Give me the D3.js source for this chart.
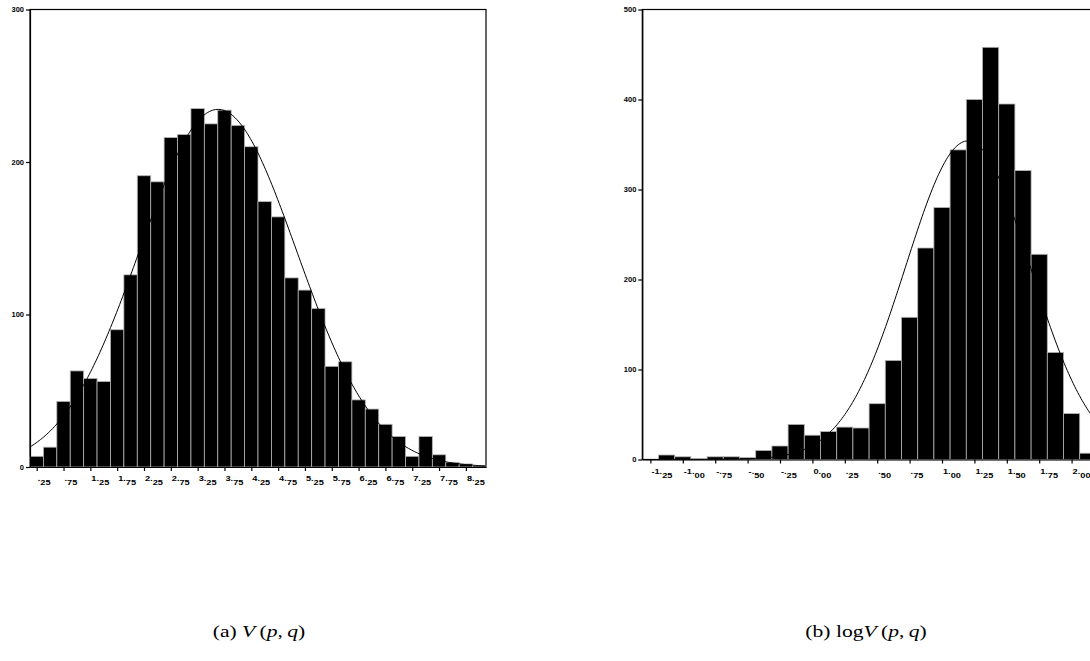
<!DOCTYPE html>
<html lang="en">
<head>
    <meta charset="UTF-8">
    <title>V(p,q) histograms</title>
    <script src="https://d3js.org/d3.v7.min.js"></script>
    <style>
        body {
            margin: 0;
            padding: 0;
            background: #fff;
        }
        .axis text {
            font-family: "Liberation Sans", Arial, sans-serif;
            font-weight: bold;
            font-size: 7.5px;
            fill: #000;
        }
        .axis path, .axis line {
            stroke: #000;
            stroke-width: 1.2px;
        }
        .xlab {
            font-family: "Liberation Sans", Arial, sans-serif;
            font-weight: bold;
            font-size: 8px;
            fill: #000;
        }
        .bar {
            fill: #000;
            stroke: #b4b4b4;
            stroke-width: 0.8px;
        }
        .curve {
            fill: none;
            stroke: #000;
            stroke-width: 1px;
        }
        .frame {
            fill: none;
            stroke: #000;
            stroke-width: 1.2px;
        }
        .caption {
            font-family: "Liberation Serif", "Times New Roman", serif;
            font-size: 16px;
            fill: #000;
        }
    </style>
</head>
<body>
<script>
    // left panel: V(p,q), bins of width .25
    const leftBins = [0.25, 0.5, 0.75, 1.0, 1.25, 1.5, 1.75, 2.0, 2.25, 2.5, 2.75, 3.0,
        3.25, 3.5, 3.75, 4.0, 4.25, 4.5, 4.75, 5.0, 5.25, 5.5, 5.75, 6.0,
        6.25, 6.5, 6.75, 7.0, 7.25, 7.5, 7.75, 8.0, 8.25, 8.5];
    const leftCounts = [7, 13, 43, 63, 58, 56, 90, 126, 191, 187, 216, 218,
        235, 225, 234, 224, 210, 174, 164, 124, 116, 104, 66, 69,
        44, 38, 28, 20, 7, 20, 8, 3, 2, 1];
    const leftTicks = [0.25, 0.75, 1.25, 1.75, 2.25, 2.75, 3.25, 3.75, 4.25, 4.75,
        5.25, 5.75, 6.25, 6.75, 7.25, 7.75, 8.25];
    const leftYTicks = [0, 100, 200, 300];
    const leftFit = { mean: 3.63, sd: 1.46, peak: 234.5 };

    // right panel: log V(p,q), bins of width .125
    const rightBins = [-1.25, -1.125, -1.0, -0.875, -0.75, -0.625, -0.5, -0.375,
        -0.25, -0.125, 0.0, 0.125, 0.25, 0.375, 0.5, 0.625, 0.75, 0.875,
        1.0, 1.125, 1.25, 1.375, 1.5, 1.625, 1.75, 1.875, 2.0, 2.125];
    const rightCounts = [0, 5, 3, 1, 3, 3, 2, 10, 15, 39, 27, 31, 36, 35,
        62, 110, 158, 235, 280, 344, 400, 458, 395, 321, 228, 119, 51, 7];
    const rightTicks = [-1.25, -1.0, -0.75, -0.5, -0.25, 0.0, 0.25, 0.5, 0.75,
        1.0, 1.25, 1.5, 1.75, 2.0];
    const rightYTicks = [0, 100, 200, 300, 400, 500];
    const rightFit = { mean: 1.2, sd: 0.48, peak: 354 };

    const svg = d3.select('body').append('svg')
        .attr('width', 1090)
        .attr('height', 661);

    // label like ".25" / "-1.25": the decimals sit a little lower
    function splitLabel(v) {
        const s = v.toFixed(2);
        let [ip, dp] = s.split('.');
        if (ip === '0' && v > 0) ip = '';
        if (ip === '-0') ip = '-';
        return [ip + '.', dp];
    }

    function panel(opt) {
        const x = d3.scaleLinear().domain(opt.xDomain).range(opt.xRange);
        const y = d3.scaleLinear().domain(opt.yDomain).range(opt.yRange);
        const w = opt.binWidth;
        const g = svg.append('g');

        g.append('rect')
            .attr('class', 'frame')
            .attr('x', opt.xRange[0])
            .attr('y', opt.yRange[1])
            .attr('width', opt.xRange[1] - opt.xRange[0])
            .attr('height', opt.yRange[0] - opt.yRange[1]);

        g.append('g')
            .selectAll('rect')
            .data(opt.bins)
            .enter().append('rect')
            .attr('class', 'bar')
            .attr('x', d => x(d - w / 2))
            .attr('width', d => x(d + w / 2) - x(d - w / 2))
            .attr('y', (d, i) => y(opt.counts[i]))
            .attr('height', (d, i) => y(0) - y(opt.counts[i]));

        const f = opt.fit;
        const pts = d3.range(opt.xDomain[0], opt.xDomain[1], (opt.xDomain[1] - opt.xDomain[0]) / 300)
            .concat([opt.xDomain[1]])
            .map(v => [v, f.peak * Math.exp(-((v - f.mean) ** 2) / (2 * f.sd * f.sd))]);
        g.append('path')
            .attr('class', 'curve')
            .attr('d', d3.line().x(d => x(d[0])).y(d => y(d[1]))(pts));

        g.append('g')
            .attr('class', 'axis')
            .attr('transform', `translate(${opt.xRange[0]},0)`)
            .call(d3.axisLeft(y).tickValues(opt.yTicks).tickSize(4).tickSizeOuter(0).tickPadding(2));

        g.append('g')
            .attr('class', 'axis')
            .attr('transform', `translate(0,${opt.yRange[0]})`)
            .call(d3.axisBottom(x).tickValues(opt.ticks).tickSize(4).tickSizeOuter(0).tickFormat(''));

        const lab = g.append('g')
            .selectAll('text')
            .data(opt.ticks)
            .enter().append('text')
            .attr('class', 'xlab')
            .attr('transform', d => `translate(${x(d) + 1},${opt.yRange[0] + opt.labelDy}) scale(1.15,1)`);
        lab.append('tspan').text(d => splitLabel(d)[0]);
        lab.append('tspan').attr('dy', 3.5).text(d => splitLabel(d)[1]);
    }

    panel({
        bins: leftBins, counts: leftCounts, ticks: leftTicks, yTicks: leftYTicks, fit: leftFit,
        binWidth: 0.25,
        xDomain: [0.125, 8.625], xRange: [30, 486],
        yDomain: [0, 300], yRange: [467, 9.5],
        labelDy: 14
    });

    panel({
        bins: rightBins, counts: rightCounts, ticks: rightTicks, yTicks: rightYTicks, fit: rightFit,
        binWidth: 0.125,
        xDomain: [-1.3125, 2.1875], xRange: [642.3, 1095.9],
        yDomain: [0, 500], yRange: [459.5, 9.5],
        labelDy: 14.5
    });

    // captions, glyphs a bit wider than tall like the scanned figure
    function caption(cx, parts) {
        const t = svg.append('text')
            .attr('class', 'caption')
            .attr('transform', `translate(${cx},637) scale(1.35,1)`)
            .attr('text-anchor', 'middle');
        parts.forEach(p => {
            t.append('tspan')
                .attr('font-style', p[1] ? 'italic' : 'normal')
                .text(p[0]);
        });
    }
    caption(259, [['(a) ', 0], ['V', 1], ['\u2009(', 0], ['p', 1], [',\u2009', 0], ['q', 1], [')', 0]]);
    caption(866, [['(b) log', 0], ['V', 1], ['\u2009(', 0], ['p', 1], [',\u2009', 0], ['q', 1], [')', 0]]);
</script>
</body>
</html>
